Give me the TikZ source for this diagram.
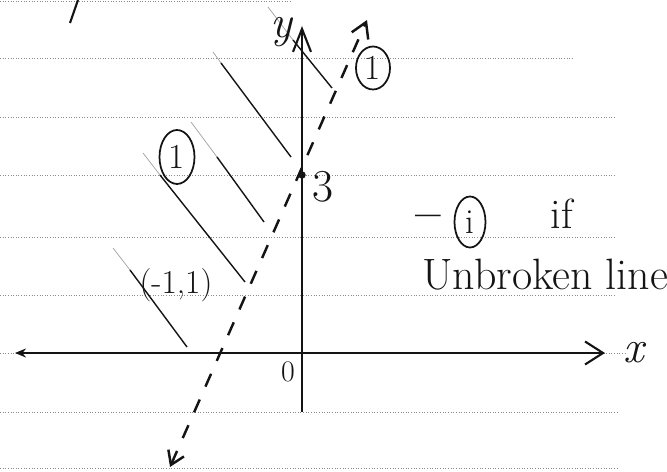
\documentclass[tikz,border=0pt]{standalone}
\usepackage{fontspec}
\usepackage{tikz}
\usetikzlibrary{arrows.meta,shapes.geometric}
\definecolor{handInk}{HTML}{141414}
\definecolor{ruleGray}{HTML}{8C8C8C}
\definecolor{faintInk}{HTML}{A0A0A0}

\begin{document}
\begin{tikzpicture}[x=0.02cm,y=-0.02cm,
  rule/.style={ruleGray,densely dotted,line width=0.5pt},
  axis/.style={handInk,line width=1.2pt},
  hatch/.style={handInk,line width=0.8pt},
  hatchfaint/.style={faintInk,line width=0.4pt},
  bound/.style={handInk,line width=1.4pt,dash pattern=on 8pt off 8pt},
  lbl/.style={text=handInk,font=\fontsize{24}{26}\selectfont,inner sep=0pt},
  small/.style={text=handInk,font=\fontsize{17}{19}\selectfont,inner sep=0pt},
  circ/.style={draw=handInk,ellipse,line width=1pt,inner sep=0pt,
               text=handInk,font=\fontsize{20}{22}\selectfont}]
  \useasboundingbox (0,0) rectangle (667,472);
  \clip (0,0) rectangle (667,472);
  % ruled paper
  \draw[rule] (0,1) -- (290,1);
  \draw[rule] (0,58) -- (574,58);
  \foreach \yy in {117,175,237,295} \draw[rule] (0,\yy) -- (615,\yy);
  \draw[rule] (0,353) -- (625,353);
  \foreach \yy in {412,468} \draw[rule] (0,\yy) -- (617,\yy);
  % stray stroke, top left
  \draw[handInk,line width=1.2pt] (70,23) -- (78,0);
  % shading strokes
  \foreach \xa/\ya/\xb/\yb/\xc/\yc in {268/7/293/40/332/88,
      213/52/221/63/291/157, 191/122/217/157/264/222,
      143/153/160/175/245/282, 113/248/130/270/187/347} {
    \draw[hatchfaint] (\xa,\ya) -- (\xb,\yb);
    \draw[hatch] (\xb,\yb) -- (\xc,\yc);
  }
  % axes
  \coordinate (xl) at (15,353);  \coordinate (xr) at (605,353);
  \coordinate (yb) at (302,412); \coordinate (yt) at (302,26);
  \draw[axis,{Stealth[length=2.2mm,width=1.8mm]}-{Straight Barb[length=3.6mm,width=4.6mm]}] (xl) -- (xr);
  \draw[axis,-{Straight Barb[length=4.6mm,width=3.6mm]}] (yb) -- (yt);
  \node[lbl,font=\fontsize{26}{28}\selectfont] (xlab) at (634,353) {\itshape x};
  \node[lbl,font=\fontsize{26}{28}\selectfont] (ylab) at (281,32)  {\itshape y};
  \node[small] (orig) at (288,372) {0};
  % boundary line
  \coordinate (lb) at (170,467); \coordinate (lt) at (367,20);
  \draw[bound,{Straight Barb[length=2.6mm,width=3.4mm]}-{Straight Barb[length=3mm,width=3.6mm]}] (lb) -- (lt);
  \node[circle,fill=handInk,inner sep=1.5pt] (icpt) at (302,175) {};
  \node[lbl,font=\fontsize{26}{28}\selectfont] (three) at (323,187) {3};
  \node[small,font=\fontsize{19}{21}\selectfont] (pt) at (176,285) {(-1,1)};
  % circled marks
  \node[circ,minimum width=0.68cm,minimum height=0.86cm] (ctop)  at (373,68)  {1};
  \node[circ,minimum width=0.7cm,minimum height=1.08cm]  (cleft) at (177,157) {1};
  \node[circ,minimum width=0.62cm,minimum height=1.02cm] (cnote) at (470,222) {i};
  % note
  \node[lbl,font=\bfseries\fontsize{26}{28}\selectfont,anchor=base] (dash) at (428,229) {--};
  \node[lbl] (iff)  at (562,214) {if};
  \node[lbl,font=\fontsize{25}{27}\selectfont,anchor=base west] (note) at (422,290) {Unbroken line};
\end{tikzpicture}
\end{document}
